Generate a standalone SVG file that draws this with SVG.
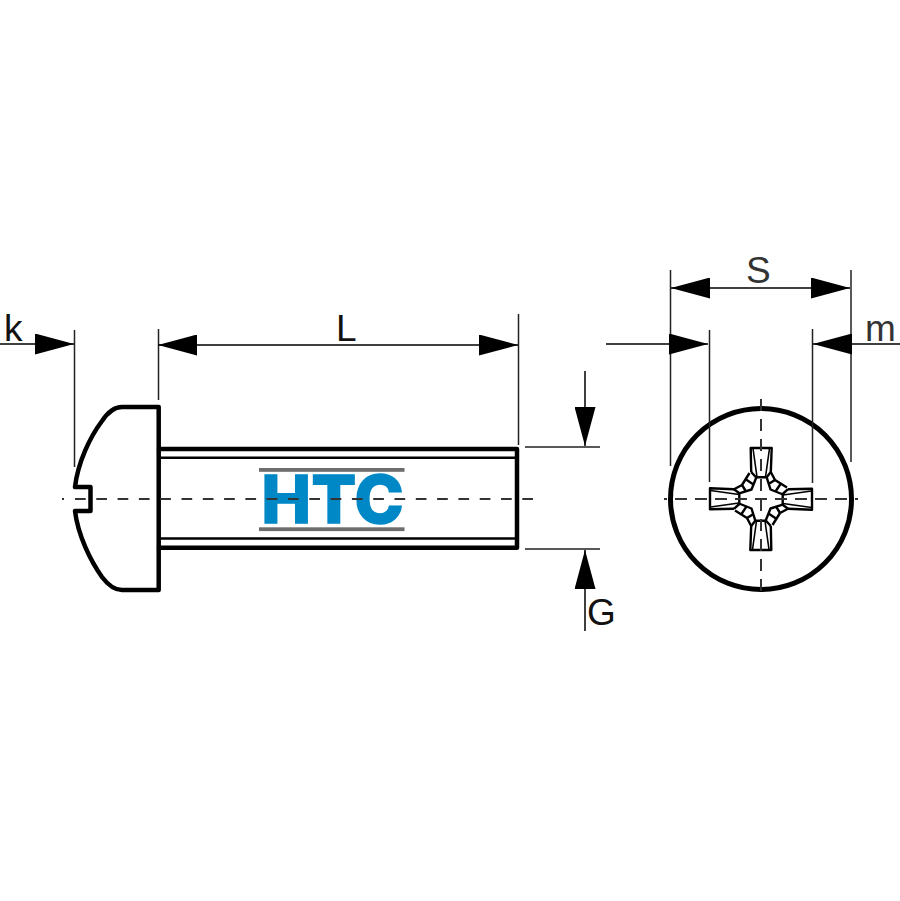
<svg xmlns="http://www.w3.org/2000/svg" xmlns:xlink="http://www.w3.org/1999/xlink" width="900" height="901" viewBox="0 0 900 901">
<style>
.thick{fill:none;stroke:#000;stroke-width:4.500;stroke-linejoin:round;stroke-linecap:round}
.mid{fill:none;stroke:#000;stroke-width:2.500;stroke-linejoin:round}
.rec{fill:none;stroke:#000;stroke-width:2.400;stroke-linejoin:round}
.recf{fill:none;stroke:#000;stroke-width:1.600;stroke-linejoin:round}
.thin{fill:none;stroke:#222;stroke-width:1.500}
.dim{fill:none;stroke:#000;stroke-width:1.500}
.center{fill:none;stroke:#333;stroke-width:2}
.lbl{font-family:"Liberation Sans",Arial,sans-serif;font-size:37px}
</style>
<defs>
<marker id="arrow" markerUnits="userSpaceOnUse" markerWidth="39" markerHeight="21" refX="39" refY="10.500" orient="auto-start-reverse"><path d="M0 0L39 10.500L0 21Z" fill="#000"/></marker>
<g id="recessArm">
<path class="rec" d="M751.200 472L750.700 448H771.700L770.800 472"/>
<path class="rec" d="M751.200 472L756 477.300H766.700L770.800 472"/>
<path class="recf" d="M753 448.500L757 477M769.500 448.500L765.500 477"/>
<path class="rec" d="M770.800 472L775 480L787 487.500"/>
<path class="rec" d="M766.700 477.300L770.500 489.500L783 494.500"/>
<path class="rec" d="M768.500 484L775 480M775.500 491.500L780.500 484"/>
</g>
</defs>
<g id="logo">
<rect x="259" y="468" width="145.500" height="3.800" fill="#6d6d6d"/>
<rect x="259" y="527.300" width="145.500" height="3.800" fill="#6d6d6d"/>
<text x="261.500" y="523" textLength="142" lengthAdjust="spacing" font-family="Inter,'Liberation Sans',Arial,sans-serif" font-weight="800" font-size="66" fill="#0088c6" stroke="#0088c6" stroke-width="1.600">HTC</text>
</g>
<g id="screw-side">
<path class="thick" d="M158.700 407H122C115 407 108 412 102 421C90 437 78 462 75 487H90.500V511H75C78 535 90 560 102 577C108 585 115 590 122 590H158.700Z"/>
<path class="thick" d="M159 449H517V547.700H159"/>
<path class="mid" d="M159 457.700H516M159 538.500H516"/>
</g>
<g id="screw-head-top">
<circle cx="761" cy="499" r="90.500" fill="none" stroke="#000" stroke-width="5"/>
<use xlink:href="#recessArm" href="#recessArm"/>
<use xlink:href="#recessArm" href="#recessArm" transform="rotate(90 761 499)"/>
<use xlink:href="#recessArm" href="#recessArm" transform="rotate(180 761 499)"/>
<use xlink:href="#recessArm" href="#recessArm" transform="rotate(270 761 499)"/>
</g>
<g id="centerlines">
<path class="center" d="M62 499H64"/>
<path class="center" stroke-dasharray="10.700 10.600" d="M75 499H534"/>
<path class="center" stroke-dasharray="12 8" d="M664 499H858" stroke-dashoffset="9"/>
<path class="center" stroke-dasharray="12 8" d="M761 397V595" stroke-dashoffset="-2"/>
</g>
<g id="connectors">
<path class="thin" d="M74.500 330V467M158.500 329V400M518.500 314V445M670.500 270V466M851 270V462M709.500 330V482M812.500 329V483M525 447H600M525 549H600"/>
<path class="dim" d="M0 344H74" marker-end="url(#arrow)"/>
<path class="dim" d="M158 345H518" marker-start="url(#arrow)" marker-end="url(#arrow)"/>
<path class="dim" d="M671 288H850" marker-start="url(#arrow)" marker-end="url(#arrow)"/>
<path class="dim" d="M606 344H708" marker-end="url(#arrow)"/>
<path class="dim" d="M900 344H813" marker-end="url(#arrow)"/>
<path class="dim" d="M585 371V446" marker-end="url(#arrow)"/>
<path class="dim" d="M585 631V550" marker-end="url(#arrow)"/>
</g>
<g id="labels">
<text class="lbl" x="4" y="341" fill="#111">k</text>
<text class="lbl" x="336" y="341" fill="#111">L</text>
<text class="lbl" x="746" y="283" fill="#333">S</text>
<text class="lbl" x="865" y="341" fill="#333">m</text>
<text class="lbl" x="587" y="625" fill="#111">G</text>
</g>
</svg>
